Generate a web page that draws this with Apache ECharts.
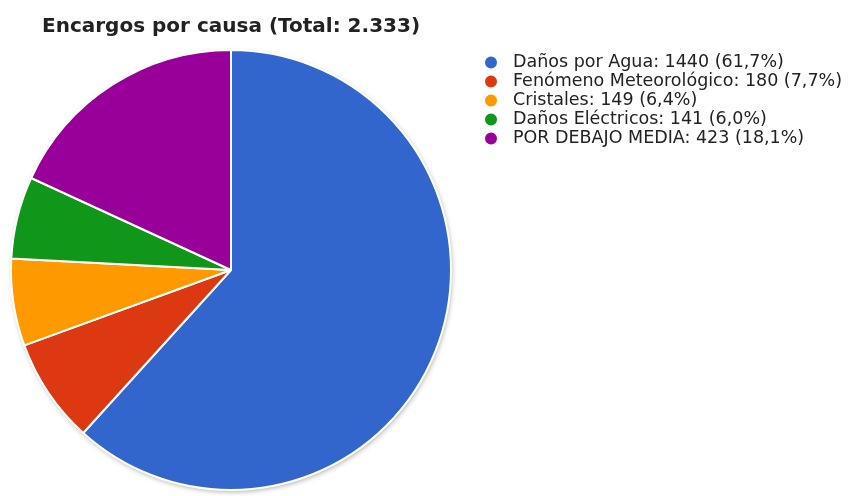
<!DOCTYPE html>
<html><head><meta charset="utf-8">
<script src="https://cdn.jsdelivr.net/npm/echarts@6/dist/echarts.min.js"></script>
<style>html,body{margin:0;padding:0;background:#fff}#c{width:849px;height:496px}</style>
</head><body><div id="c"></div>
<script>
const categories = ['Daños por Agua', 'Fenómeno Meteorológico', 'Cristales', 'Daños Eléctricos', 'POR DEBAJO MEDIA'];
const values = [1440, 180, 149, 141, 423];
const colors = ['#3366cc', '#dc3912', '#ff9900', '#109618', '#990099'];
const titleText = 'Encargos por causa (Total: 2.333)';

const total = values.reduce((a, b) => a + b, 0);
const chart = echarts.init(document.getElementById('c'));
chart.setOption({
  animation: false,
  title: {
    text: titleText, left: 37, top: 12,
    textStyle: { fontFamily: 'DejaVu Sans', fontWeight: 'bold', fontSize: 20, color: '#222' }
  },
  legend: {
    orient: 'vertical', left: 478, top: 48,
    icon: 'circle', itemWidth: 14, itemHeight: 14, itemGap: 0,
    data: categories,
    textStyle: { fontFamily: 'DejaVu Sans', fontSize: 17.5, lineHeight: 19, color: '#222', padding: [0, 0, 0, 10] },
    formatter: name => {
      const i = categories.indexOf(name);
      return name + ': ' + values[i] + ' (' + (values[i] / total * 100).toFixed(1).replace('.', ',') + '%)';
    }
  },
  color: colors,
  series: [{
    type: 'pie',
    silent: true,
    center: [231, 270],
    radius: 220,
    label: { show: false },
    labelLine: { show: false },
    itemStyle: { color: '#fff', shadowBlur: 5, shadowOffsetX: 1, shadowOffsetY: 2, shadowColor: 'rgba(0,0,0,0.3)' },
    emphasis: { disabled: true },
    data: [{ name: '_bg', value: total }]
  }, {
    type: 'pie',
    center: [231, 270],
    radius: 220,
    startAngle: 90,
    clockwise: true,
    label: { show: false },
    labelLine: { show: false },
    itemStyle: { borderColor: '#fff', borderWidth: 2 },
    emphasis: { disabled: true },
    data: categories.map((n, i) => ({ name: n, value: values[i] }))
  }]
});
</script></body></html>
